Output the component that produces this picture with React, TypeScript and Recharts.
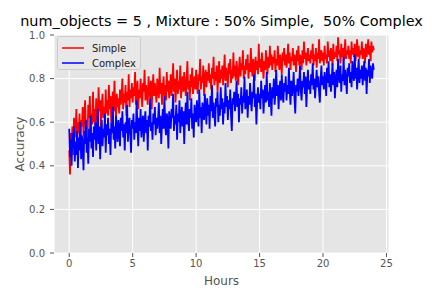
import { LineChart, Line, XAxis, YAxis, CartesianGrid } from 'recharts';

// one sample every 3.75 minutes, 0 h .. 24 h (16 per row = 1 hour)
const STEP_HOURS = 0.0625;

const simpleAcc: number[] = [
  0.47, 0.36, 0.55, 0.50, 0.58, 0.45, 0.62, 0.53, 0.57, 0.66, 0.51, 0.60, 0.55, 0.64, 0.49, 0.61,
  0.58, 0.67, 0.54, 0.63, 0.70, 0.57, 0.61, 0.52, 0.68, 0.62, 0.72, 0.56, 0.64, 0.59, 0.74, 0.60,
  0.66, 0.58, 0.71, 0.63, 0.60, 0.76, 0.65, 0.70, 0.57, 0.68, 0.73, 0.62, 0.67, 0.61, 0.75, 0.64,
  0.70, 0.63, 0.77, 0.66, 0.72, 0.60, 0.69, 0.74, 0.65, 0.79, 0.68, 0.62, 0.73, 0.67, 0.71, 0.64,
  0.75, 0.68, 0.72, 0.80, 0.66, 0.73, 0.69, 0.77, 0.63, 0.74, 0.70, 0.82, 0.67, 0.75, 0.71, 0.78,
  0.69, 0.76, 0.72, 0.83, 0.68, 0.74, 0.79, 0.66, 0.75, 0.71, 0.80, 0.73, 0.67, 0.78, 0.74, 0.84,
  0.70, 0.77, 0.73, 0.68, 0.81, 0.75, 0.71, 0.79, 0.66, 0.76, 0.82, 0.72, 0.78, 0.74, 0.69, 0.80,
  0.75, 0.71, 0.85, 0.73, 0.78, 0.68, 0.76, 0.81, 0.72, 0.77, 0.70, 0.83, 0.74, 0.79, 0.71, 0.76,
  0.82, 0.72, 0.78, 0.87, 0.74, 0.80, 0.69, 0.77, 0.84, 0.73, 0.79, 0.75, 0.86, 0.71, 0.78, 0.81,
  0.74, 0.83, 0.77, 0.72, 0.80, 0.88, 0.75, 0.79, 0.70, 0.82, 0.76, 0.85, 0.73, 0.78, 0.81, 0.75,
  0.84, 0.77, 0.73, 0.82, 0.79, 0.89, 0.75, 0.81, 0.78, 0.86, 0.72, 0.80, 0.84, 0.76, 0.83, 0.79,
  0.87, 0.78, 0.82, 0.75, 0.85, 0.80, 0.90, 0.77, 0.83, 0.79, 0.86, 0.74, 0.81, 0.88, 0.78, 0.84,
  0.80, 0.86, 0.77, 0.83, 0.91, 0.79, 0.85, 0.81, 0.76, 0.87, 0.82, 0.89, 0.78, 0.84, 0.80, 0.92,
  0.81, 0.86, 0.79, 0.88, 0.83, 0.77, 0.85, 0.90, 0.81, 0.87, 0.84, 0.93, 0.80, 0.86, 0.82, 0.89,
  0.84, 0.91, 0.80, 0.87, 0.83, 0.94, 0.85, 0.81, 0.89, 0.86, 0.79, 0.90, 0.84, 0.88, 0.82, 0.96,
  0.85, 0.89, 0.83, 0.92, 0.86, 0.80, 0.88, 0.84, 0.93, 0.87, 0.82, 0.90, 0.85, 0.95, 0.86, 0.91,
  0.84, 0.90, 0.87, 0.93, 0.83, 0.89, 0.86, 0.95, 0.88, 0.84, 0.91, 0.87, 0.82, 0.92, 0.88, 0.94,
  0.86, 0.91, 0.85, 0.89, 0.96, 0.87, 0.92, 0.84, 0.90, 0.88, 0.94, 0.86, 0.91, 0.89, 0.83, 0.93,
  0.88, 0.95, 0.86, 0.91, 0.89, 0.84, 0.93, 0.87, 0.97, 0.89, 0.92, 0.86, 0.90, 0.94, 0.88, 0.91,
  0.87, 0.93, 0.89, 0.96, 0.86, 0.91, 0.88, 0.94, 0.85, 0.92, 0.89, 0.98, 0.87, 0.91, 0.93, 0.88,
  0.92, 0.86, 0.95, 0.89, 0.91, 0.87, 0.97, 0.90, 0.93, 0.88, 0.94, 0.91, 0.86, 0.96, 0.89, 0.92,
  0.90, 0.95, 0.88, 0.99, 0.91, 0.93, 0.87, 0.96, 0.90, 0.94, 0.88, 0.92, 0.98, 0.89, 0.93, 0.91,
  0.95, 0.89, 0.93, 0.87, 0.97, 0.91, 0.94, 0.90, 0.96, 0.88, 0.92, 0.98, 0.90, 0.95, 0.89, 0.93,
  0.91, 0.97, 0.89, 0.94, 0.92, 0.87, 0.96, 0.90, 0.93, 0.98, 0.91, 0.95, 0.88, 0.97, 0.92, 0.95,
  0.93,
];

const complexAcc: number[] = [
  0.57, 0.44, 0.52, 0.40, 0.55, 0.48, 0.58, 0.42, 0.51, 0.45, 0.56, 0.39, 0.53, 0.47, 0.60, 0.43,
  0.54, 0.49, 0.38, 0.56, 0.50, 0.61, 0.46, 0.53, 0.41, 0.57, 0.51, 0.63, 0.48, 0.55, 0.44, 0.58,
  0.52, 0.60, 0.47, 0.56, 0.66, 0.50, 0.58, 0.43, 0.55, 0.61, 0.49, 0.57, 0.53, 0.64, 0.46, 0.59,
  0.54, 0.62, 0.50, 0.57, 0.45, 0.60, 0.55, 0.67, 0.52, 0.58, 0.48, 0.63, 0.56, 0.51, 0.61, 0.57,
  0.49, 0.62, 0.56, 0.65, 0.53, 0.59, 0.47, 0.60, 0.55, 0.68, 0.51, 0.58, 0.62, 0.54, 0.46, 0.61,
  0.57, 0.64, 0.52, 0.60, 0.55, 0.70, 0.58, 0.49, 0.62, 0.56, 0.66, 0.53, 0.59, 0.63, 0.51, 0.60,
  0.65, 0.55, 0.61, 0.47, 0.63, 0.58, 0.71, 0.56, 0.60, 0.52, 0.64, 0.59, 0.67, 0.54, 0.62, 0.57,
  0.61, 0.69, 0.55, 0.63, 0.50, 0.60, 0.66, 0.57, 0.72, 0.59, 0.54, 0.64, 0.61, 0.48, 0.65, 0.60,
  0.57, 0.66, 0.62, 0.73, 0.56, 0.63, 0.59, 0.68, 0.52, 0.64, 0.60, 0.70, 0.55, 0.62, 0.67, 0.58,
  0.65, 0.50, 0.63, 0.69, 0.59, 0.74, 0.61, 0.56, 0.66, 0.62, 0.71, 0.57, 0.64, 0.53, 0.68, 0.63,
  0.60, 0.70, 0.64, 0.58, 0.75, 0.62, 0.67, 0.55, 0.69, 0.65, 0.61, 0.73, 0.66, 0.59, 0.71, 0.63,
  0.68, 0.57, 0.72, 0.65, 0.77, 0.62, 0.69, 0.64, 0.58, 0.71, 0.67, 0.74, 0.60, 0.68, 0.63, 0.76,
  0.66, 0.71, 0.59, 0.69, 0.64, 0.78, 0.67, 0.72, 0.61, 0.70, 0.66, 0.75, 0.63, 0.56, 0.71, 0.68,
  0.74, 0.65, 0.70, 0.79, 0.67, 0.73, 0.60, 0.71, 0.68, 0.76, 0.64, 0.72, 0.69, 0.81, 0.66, 0.70,
  0.75, 0.62, 0.72, 0.68, 0.78, 0.70, 0.65, 0.74, 0.71, 0.82, 0.67, 0.73, 0.59, 0.70, 0.76, 0.69,
  0.73, 0.66, 0.79, 0.71, 0.75, 0.64, 0.72, 0.77, 0.69, 0.83, 0.70, 0.74, 0.67, 0.78, 0.72, 0.63,
  0.76, 0.71, 0.80, 0.68, 0.74, 0.84, 0.72, 0.77, 0.66, 0.75, 0.79, 0.70, 0.82, 0.73, 0.69, 0.78,
  0.74, 0.81, 0.70, 0.77, 0.73, 0.85, 0.75, 0.68, 0.79, 0.72, 0.76, 0.83, 0.71, 0.64, 0.77, 0.74,
  0.80, 0.72, 0.78, 0.86, 0.74, 0.70, 0.79, 0.76, 0.83, 0.73, 0.81, 0.67, 0.77, 0.84, 0.75, 0.79,
  0.73, 0.82, 0.77, 0.87, 0.75, 0.80, 0.71, 0.78, 0.84, 0.76, 0.81, 0.74, 0.69, 0.80, 0.86, 0.77,
  0.81, 0.75, 0.83, 0.79, 0.72, 0.85, 0.78, 0.88, 0.76, 0.82, 0.74, 0.80, 0.87, 0.77, 0.83, 0.71,
  0.79, 0.84, 0.76, 0.89, 0.81, 0.78, 0.86, 0.74, 0.82, 0.79, 0.90, 0.77, 0.84, 0.80, 0.73, 0.85,
  0.81, 0.87, 0.78, 0.83, 0.76, 0.88, 0.82, 0.79, 0.91, 0.80, 0.85, 0.75, 0.83, 0.89, 0.78, 0.84,
  0.80, 0.86, 0.77, 0.83, 0.88, 0.79, 0.85, 0.73, 0.84, 0.81, 0.89, 0.78, 0.86, 0.82, 0.80, 0.87,
  0.84,
];

const xTicks = [0, 5, 10, 15, 20, 25];
const yTicks = [0, 0.2, 0.4, 0.6, 0.8, 1.0];

const data = simpleAcc.map((s, i) => ({
  hours: i * STEP_HOURS,
  simple: s,
  complex: complexAcc[i],
}));

const FONT = '"DejaVu Sans", sans-serif';
const TICK_STYLE = { fill: '#555555', fontSize: 10, fontFamily: FONT };

const YLabel = (props: any) => {
  const { viewBox } = props;
  const cy = viewBox.y + viewBox.height / 2;
  return (
    <text
      x={24}
      y={cy}
      transform={`rotate(-90, 24, ${cy})`}
      textAnchor="middle"
      fill="#555555"
      fontSize={12}
      fontFamily={FONT}
    >
      Accuracy
    </text>
  );
};

const App = () => {
  return (
    <div style={{ position: 'fixed', left: 0, top: 0, width: 432, height: 288, background: '#fff' }}>
      <div
        style={{
          position: 'absolute',
          left: 0,
          top: 15,
          width: 443,
          textAlign: 'center',
          fontFamily: FONT,
          fontSize: 14.4,
          color: '#000',
          whiteSpace: 'pre',
          lineHeight: '13px',
        }}
      >
        {'num_objects = 5 , Mixture : 50% Simple,  50% Complex'}
      </div>

      <LineChart width={432} height={288} data={data} margin={{ top: 35, right: 43, bottom: 0, left: 14 }}>
        <CartesianGrid fill="#E5E5E5" stroke="#ffffff" strokeWidth={1} />
        <XAxis
          dataKey="hours"
          type="number"
          domain={[-1.2, 25.2]}
          ticks={xTicks}
          allowDataOverflow
          height={35}
          axisLine={false}
          tickSize={4}
          tickMargin={3}
          tickLine={{ stroke: '#555555' }}
          tick={TICK_STYLE}
          label={{ value: 'Hours', position: 'insideBottom', offset: 3, fill: '#555555', fontSize: 12, fontFamily: FONT }}
        />
        <YAxis
          type="number"
          domain={[0, 1]}
          ticks={yTicks}
          width={40}
          axisLine={false}
          tickSize={4}
          tickMargin={5}
          tickLine={{ stroke: '#555555' }}
          tick={TICK_STYLE}
          tickFormatter={(v: number) => v.toFixed(1)}
          label={<YLabel />}
        />
        <Line dataKey="simple" stroke="#ff0000" strokeWidth={1.8} dot={false} isAnimationActive={false} />
        <Line dataKey="complex" stroke="#0000ff" strokeWidth={1.8} dot={false} isAnimationActive={false} />
      </LineChart>

      <svg style={{ position: 'absolute', left: 57, top: 36 }} width={84} height={34}>
        <rect x={0.5} y={0.5} width={83} height={33} rx={2} fill="#E8E8E8" fillOpacity={0.9} stroke="#CCCCCC" />
        <line x1={5} y1={12} x2={27} y2={12} stroke="#ff0000" strokeWidth={1.5} />
        <line x1={5} y1={27} x2={27} y2={27} stroke="#0000ff" strokeWidth={1.5} />
        <text x={35} y={15.5} fontSize={10} fontFamily={FONT} fill="#222">
          Simple
        </text>
        <text x={35} y={30.5} fontSize={10} fontFamily={FONT} fill="#222">
          Complex
        </text>
      </svg>
    </div>
  );
};

export default App;
